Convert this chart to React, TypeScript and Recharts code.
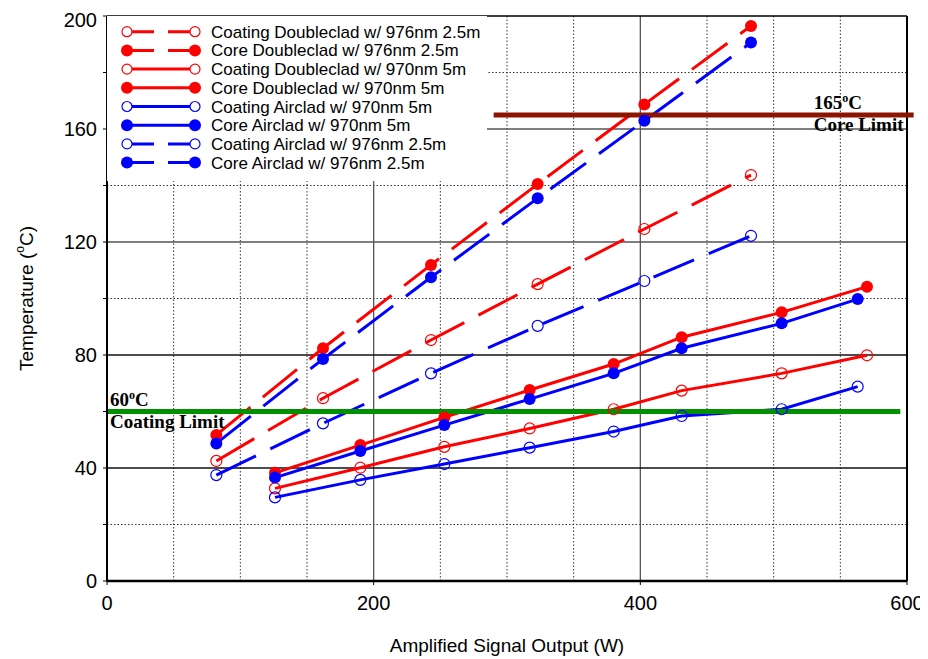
import React from 'react';
import { LineChart, Line, XAxis, YAxis, ReferenceLine, Legend } from 'recharts';

// output power (W) for each run
const x976 = [82, 162, 243, 323, 403, 483];
const x970Double = [126, 190, 253, 317, 380, 431, 506, 570];
const x970Air = [126, 190, 253, 317, 380, 431, 506, 563];

// temperatures (C)
const coatingDouble976 = [42.5, 64.7, 85.3, 105.1, 124.6, 143.7];
const coreDouble976 = [51.7, 82.4, 111.9, 140.5, 168.7, 196.5];
const coatingDouble970 = [32.8, 40.1, 47.5, 54.0, 60.8, 67.4, 73.5, 79.9];
const coreDouble970 = [38.3, 48.1, 57.9, 67.6, 76.8, 86.3, 95.1, 104.2];
const coatingAir970 = [29.6, 35.8, 41.4, 47.2, 52.9, 58.4, 60.8, 68.8];
const coreAir970 = [36.6, 46.0, 55.2, 64.4, 73.5, 82.4, 91.2, 99.8];
const coatingAir976 = [37.5, 55.8, 73.5, 90.3, 106.2, 122.2];
const coreAir976 = [48.7, 78.6, 107.5, 135.5, 162.9, 190.6];

const xTicks = [0, 200, 400, 600];
const yTicks = [0, 20, 40, 60, 80, 100, 120, 140, 160, 180, 200];
const xMajor = [200, 400];
const xMinor = [50, 100, 150, 250, 300, 350, 450, 500, 550];
const yMajor = [40, 80, 120, 160];
const yMinor = [20, 100, 140, 180];

const coatingLimit = 60;
const coreLimit = 165;

const RED = '#ff0000';
const BLUE = '#0000ff';
const SANS = '"Liberation Sans", Arial, sans-serif';
const SERIF = '"Liberation Serif", "Times New Roman", serif';
const DASH = '44 16';

const toPoints = (xs: number[], ys: number[]) => xs.map((x, i) => ({ x, y: ys[i] }));

const series = [
  { name: 'Coating Doubleclad w/ 976nm 2.5m', data: toPoints(x976, coatingDouble976), color: RED, dashed: true, filled: false },
  { name: 'Core Doubleclad w/ 976nm 2.5m', data: toPoints(x976, coreDouble976), color: RED, dashed: true, filled: true },
  { name: 'Coating Doubleclad w/ 970nm 5m', data: toPoints(x970Double, coatingDouble970), color: RED, dashed: false, filled: false },
  { name: 'Core Doubleclad w/ 970nm 5m', data: toPoints(x970Double, coreDouble970), color: RED, dashed: false, filled: true },
  { name: 'Coating Airclad w/ 970nm 5m', data: toPoints(x970Air, coatingAir970), color: BLUE, dashed: false, filled: false },
  { name: 'Core Airclad w/ 970nm 5m', data: toPoints(x970Air, coreAir970), color: BLUE, dashed: false, filled: true },
  { name: 'Coating Airclad w/ 976nm 2.5m', data: toPoints(x976, coatingAir976), color: BLUE, dashed: true, filled: false },
  { name: 'Core Airclad w/ 976nm 2.5m', data: toPoints(x976, coreAir976), color: BLUE, dashed: true, filled: true },
];

const dotStyle = (color: string, filled: boolean) =>
  filled
    ? { r: 6, fill: color, stroke: color, strokeWidth: 0, strokeDasharray: 'none' }
    : { r: 5.5, fill: 'none', stroke: color, strokeWidth: 1.2, strokeDasharray: 'none' };

function LegendBox() {
  const rowH = 18.7;
  return (
    <div style={{ width: 380, height: 165, background: '#fff' }}>
      <svg width={380} height={165}>
        {series.map((s, i) => {
          const y = 15.7 + i * rowH;
          return (
            <g key={s.name}>
              <line x1={20} x2={88} y1={y} y2={y} stroke={s.color} strokeWidth={3}
                strokeDasharray={s.dashed ? '27 14' : undefined} />
              {[20, 88].map(cx => (
                <circle key={cx} cx={cx} cy={y} r={s.filled ? 6 : 5}
                  fill={s.filled ? s.color : '#fff'} stroke={s.color} strokeWidth={s.filled ? 0 : 1.2} />
              ))}
              <text x={104} y={y + 6} fontFamily={SANS} fontSize={17} fill="#000">{s.name}</text>
            </g>
          );
        })}
      </svg>
    </div>
  );
}

const limitText = (lines: [string, string], dx: number, fromRight: boolean) => (props: any) => {
  const vb = props.viewBox || {};
  const x = (fromRight ? vb.x + vb.width : vb.x) + dx;
  const y = vb.y;
  return (
    <text x={x} y={y - 6} fontFamily={SERIF} fontWeight="bold" fontSize={19} fill="#000">
      <tspan>{lines[0]}</tspan>
      <tspan fontSize={12} dy={-7}>o</tspan>
      <tspan dy={7}>C</tspan>
      <tspan x={x} y={y + 16}>{lines[1]}</tspan>
    </text>
  );
};

const YTitle = (props: any) => {
  const vb = props.viewBox || {};
  const cx = 20;
  const cy = vb.y + vb.height / 2;
  return (
    <text x={cx} y={cy} transform={`rotate(-90 ${cx} ${cy})`} textAnchor="middle"
      fontFamily={SANS} fontSize={19} fill="#000" dominantBaseline="middle">
      <tspan>Temperature (</tspan>
      <tspan fontSize={12} dy={-7}>o</tspan>
      <tspan dy={7}>C)</tspan>
    </text>
  );
};

const XTitle = (props: any) => {
  const vb = props.viewBox || {};
  return (
    <text x={vb.x + vb.width / 2} y={vb.y + 71} textAnchor="middle"
      fontFamily={SANS} fontSize={19} fill="#000">
      Amplified Signal Output (W)
    </text>
  );
};

export default function App() {
  return (
    <div style={{ fontFamily: SANS }}>
      <LineChart width={920} height={651} margin={{ top: 8, right: 21, left: 0, bottom: 0 }}>
        <XAxis type="number" dataKey="x" domain={[0, 600]} ticks={xTicks} allowDataOverflow
          height={78} tickSize={4} tickMargin={11}
          axisLine={{ stroke: '#000', strokeWidth: 2.5 }} tickLine={{ stroke: '#000' }}
          tick={{ fill: '#000', fontSize: 20, fontFamily: SANS }}
          label={{ content: XTitle }} />
        <YAxis type="number" domain={[0, 200]} ticks={yTicks} allowDataOverflow
          width={99} tickSize={4} tickMargin={6}
          tickFormatter={(v: number) => (v % 40 === 0 ? String(v) : '')}
          axisLine={{ stroke: '#000', strokeWidth: 2 }} tickLine={{ stroke: '#000' }}
          tick={{ fill: '#000', fontSize: 20, fontFamily: SANS }}
          label={{ content: YTitle }} />

        {xMinor.map(v => (
          <ReferenceLine key={`xm${v}`} x={v} stroke="#333" strokeWidth={1} strokeDasharray="1.5 2" />
        ))}
        {yMinor.map(v => (
          <ReferenceLine key={`ym${v}`} y={v} stroke="#333" strokeWidth={1} strokeDasharray="1.5 2" />
        ))}
        {xMajor.map(v => (
          <ReferenceLine key={`xM${v}`} x={v} stroke="#555" strokeWidth={1.3} />
        ))}
        {yMajor.map(v => (
          <ReferenceLine key={`yM${v}`} y={v} stroke={v < 100 ? '#111' : '#555'} strokeWidth={1.3} />
        ))}
        <ReferenceLine x={600} stroke="#000" strokeWidth={2} />
        <ReferenceLine y={200} stroke="#000" strokeWidth={1.5} />

        {series.map(s => (
          <Line key={s.name} data={s.data} dataKey="y" name={s.name} type="linear"
            stroke={s.color} strokeWidth={3} strokeDasharray={s.dashed ? DASH : undefined}
            dot={dotStyle(s.color, s.filled)} activeDot={false} isAnimationActive={false} />
        ))}

        <ReferenceLine segment={[{ x: 0, y: coatingLimit }, { x: 595, y: coatingLimit }]}
          stroke="#009000" strokeWidth={5} ifOverflow="visible"
          label={{ content: limitText(['60', 'Coating Limit'], 3, false) }} />
        <ReferenceLine segment={[{ x: 290, y: coreLimit }, { x: 605, y: coreLimit }]}
          stroke="#8b1500" strokeWidth={5} ifOverflow="visible"
          label={{ content: limitText(['165', 'Core Limit'], -100, true) }} />

        <Legend layout="vertical" align="center" verticalAlign="middle"
          wrapperStyle={{ left: 99, top: 8, width: 380, height: 165 }}
          content={() => <LegendBox />} />
      </LineChart>
    </div>
  );
}
